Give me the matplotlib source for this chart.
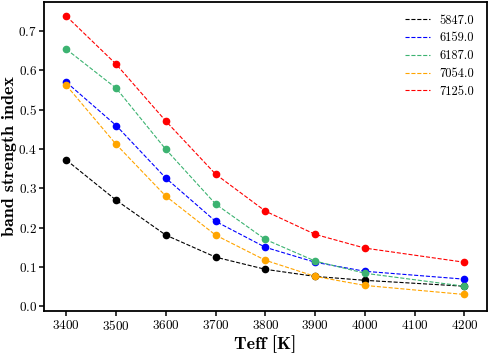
import matplotlib
matplotlib.use("Agg")
import matplotlib.pyplot as plt

plt.rcParams['font.family'] = 'serif'
plt.rcParams['font.serif'] = ['cmr10']
plt.rcParams['axes.formatter.use_mathtext'] = True
plt.rcParams['mathtext.fontset'] = 'cm'

teff = [3400, 3500, 3600, 3700, 3800, 3900, 4000, 4200]

labels = ['5847.0', '6159.0', '6187.0', '7054.0', '7125.0']
colors = ['black', 'blue', 'mediumseagreen', 'orange', 'red']

s5847 = [0.372, 0.270, 0.181, 0.125, 0.094, 0.076, 0.066, 0.051]
s6159 = [0.570, 0.460, 0.326, 0.216, 0.150, 0.112, 0.089, 0.069]
s6187 = [0.654, 0.555, 0.399, 0.260, 0.170, 0.115, 0.084, 0.051]
s7054 = [0.562, 0.412, 0.280, 0.181, 0.117, 0.076, 0.053, 0.030]
s7125 = [0.738, 0.616, 0.471, 0.336, 0.242, 0.183, 0.148, 0.112]
series = [s5847, s6159, s6187, s7054, s7125]

fig = plt.figure(figsize=(4.91, 3.53), dpi=100)
ax = fig.add_axes([0.0896, 0.119, 0.902, 0.875])

for ys, c, lab in zip(series, colors, labels):
    ax.plot(teff, ys, '--', color=c, lw=0.8, label=lab)
    ax.plot(teff, ys, 'o', color=c, ms=4.5, ls='none')

ax.set_xticks([3400, 3500, 3600, 3700, 3800, 3900, 4000, 4100, 4200])
ax.set_yticks([0.0, 0.1, 0.2, 0.3, 0.4, 0.5, 0.6, 0.7])
ax.set_xlim(3355, 4245)
ax.set_ylim(-0.012, 0.774)
ax.tick_params(direction='out', length=3.6, width=1.1, labelsize=9.5)
ax.tick_params(axis='y', pad=1.5)
ax.tick_params(axis='x', pad=2.5)
for sp in ax.spines.values():
    sp.set_linewidth(1.3)

ax.set_xlabel('Teff [K]', family='cmb10', fontsize=13, labelpad=1)
ax.set_ylabel('band strength index', family='cmb10', fontsize=13, labelpad=1)

ax.legend(frameon=False, loc='upper right', fontsize=9, handlelength=2.0,
          labelspacing=0.45, borderaxespad=0.6)

fig.savefig('out.png', dpi=100)
